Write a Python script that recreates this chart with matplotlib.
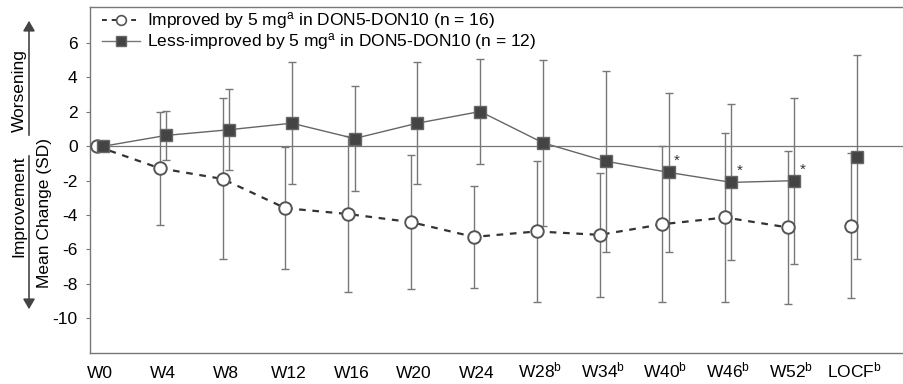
import matplotlib
matplotlib.use('Agg')
import matplotlib.pyplot as plt
import numpy as np

plt.rcParams['font.family'] = ['Liberation Sans', 'DejaVu Sans']
plt.rcParams['mathtext.fontset'] = 'custom'
plt.rcParams['mathtext.rm'] = 'Liberation Sans'
plt.rcParams['mathtext.it'] = 'Liberation Sans'

weeks = ['W0', 'W4', 'W8', 'W12', 'W16', 'W20', 'W24', 'W28$^{b}$', 'W34$^{b}$',
         'W40$^{b}$', 'W46$^{b}$', 'W52$^{b}$', 'LOCF$^{b}$']

# improved by 5 mg (n = 16)
imp_mean = [0, -1.28, -1.9, -3.6, -3.94, -4.41, -5.27, -4.95, -5.15, -4.53, -4.14, -4.72, -4.62]
imp_sd = [0, 3.27, 4.68, 3.55, 4.51, 3.9, 2.95, 4.12, 3.62, 4.52, 4.93, 4.46, 4.22]

# less-improved by 5 mg (n = 12)
less_mean = [0, 0.63, 0.96, 1.34, 0.45, 1.34, 2.02, 0.2, -0.87, -1.52, -2.1, -2.0, -0.64]
less_sd = [0, 1.41, 2.35, 3.53, 3.03, 3.53, 3.05, 4.83, 5.25, 4.63, 4.53, 4.83, 5.93]

starred = ['W40$^{b}$', 'W46$^{b}$', 'W52$^{b}$']

x = np.arange(len(weeks))
xi = x - 0.05
xl = x + 0.05

fig = plt.figure(figsize=(9.04, 3.84), dpi=100)
ax = fig.add_axes([0.0996, 0.0815, 0.9, 0.9005])

ax.axhline(0, color='#777777', lw=0.9, zorder=1)

ebc = '#777777'
ax.errorbar(xi[1:], imp_mean[1:], yerr=imp_sd[1:], fmt='none', ecolor=ebc,
            elinewidth=1.0, capsize=3, capthick=1.0, zorder=2)
ax.errorbar(xl[1:], less_mean[1:], yerr=less_sd[1:], fmt='none', ecolor=ebc,
            elinewidth=1.0, capsize=3, capthick=1.0, zorder=2)

ax.plot(xi[:-1], imp_mean[:-1], ls=(0, (3, 3)), color='#333333', lw=1.6, zorder=3)
ax.plot(xl[:-1], less_mean[:-1], ls='-', color='#666666', lw=1.0, zorder=3)
ax.plot(xi, imp_mean, ls='none', marker='o', ms=9, mfc='white', mec='#555555',
        mew=1.4, zorder=4)
ax.plot(xl, less_mean, ls='none', marker='s', ms=9, mfc='#444444', mec='#666666',
        mew=1.0, zorder=4)

for i, w in enumerate(weeks):
    if w in starred:
        ax.text(xl[i] + 0.13, less_mean[i] + 0.25, '*', fontsize=11, color='#333333',
                ha='center', va='bottom')

# legend handles
h1, = ax.plot([], [], ls=(0, (2.5, 2.5)), color='#333333', lw=1.4, marker='o', ms=7,
              mfc='white', mec='#555555', mew=1.2)
h2, = ax.plot([], [], ls='-', color='#777777', lw=1.0, marker='s', ms=7,
              mfc='#444444', mec='#666666')
ax.legend([h1, h2], ['Improved by 5 mg$^{a}$ in DON5-DON10 (n = 16)',
                     'Less-improved by 5 mg$^{a}$ in DON5-DON10 (n = 12)'],
          loc='upper left', bbox_to_anchor=(0.0, 1.025), frameon=False,
          fontsize=12.5, handlelength=2.2, handletextpad=0.4, labelspacing=0.0,
          borderaxespad=0.3)

ax.set_xlim(-0.16, 12.79)
ax.set_ylim(-12, 8.1)
ax.set_yticks([-10, -8, -6, -4, -2, 0, 2, 4, 6])
ax.set_yticklabels(['-10', '-8', '-6', '-4', '-2', '0', '2', '4', '6'])
ax.set_xticks(x)
ax.set_xticklabels(weeks)
ax.tick_params(axis='y', length=3, color='#777777', labelsize=12.5, pad=6)
ax.tick_params(axis='x', length=0, labelsize=12.5, pad=18)
for lab in ax.get_xticklabels():
    lab.set_verticalalignment('baseline')

for s in ['left', 'bottom', 'top']:
    ax.spines[s].set_color('#777777')
    ax.spines[s].set_linewidth(1.0)
ax.spines['right'].set_visible(False)

# y label with direction arrows
fig.text(45 / 904, 1 - 213 / 384, 'Mean Change (SD)', rotation=90, ha='center',
         va='center', fontsize=12.5)
fig.text(19 / 904, 1 - 91 / 384, 'Worsening', rotation=90, ha='center',
         va='center', fontsize=12.5)
fig.text(19 / 904, 1 - 206 / 384, 'Improvement', rotation=90, ha='center',
         va='center', fontsize=12.5)
fig.patches.append(matplotlib.patches.FancyArrowPatch(
    (29 / 904, 1 - 138 / 384), (29 / 904, 1 - 18 / 384), transform=fig.transFigure,
    arrowstyle='-|>,head_length=6,head_width=3.5', color='#444444', lw=1.2))
fig.patches.append(matplotlib.patches.FancyArrowPatch(
    (29 / 904, 1 - 153 / 384), (29 / 904, 1 - 312 / 384), transform=fig.transFigure,
    arrowstyle='-|>,head_length=6,head_width=3.5', color='#444444', lw=1.2))

fig.savefig('out.png', dpi=100)
